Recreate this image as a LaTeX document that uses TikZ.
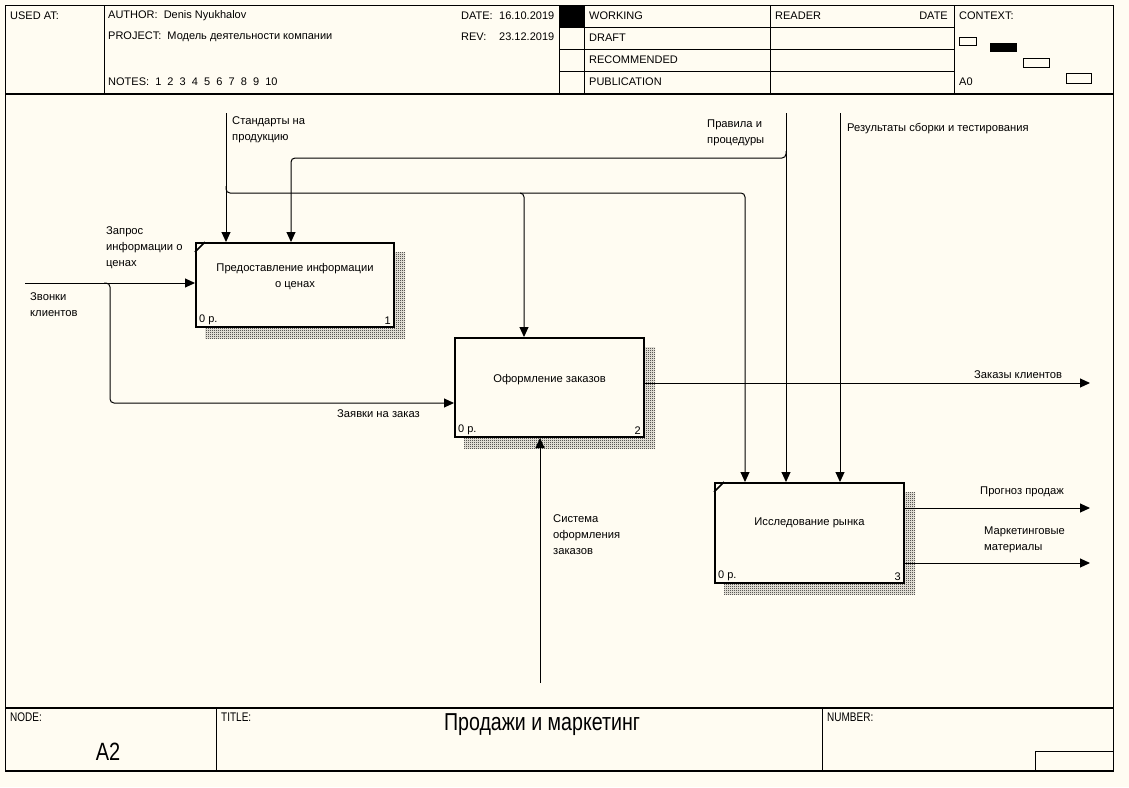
\documentclass[tikz,border=0pt]{standalone}
\usepackage{fontspec}
\setmainfont{Liberation Sans}
\newfontfamily\narrowfont[FakeStretch=0.8]{Liberation Sans}
\usetikzlibrary{arrows.meta,patterns}
\pgfdeclarelayer{back}
\pgfsetlayers{back,main}
\definecolor{paper}{HTML}{FFFCF2}
% fine dither used for the box shadows
\pgfdeclarepatternformonly{dither}{\pgfpointorigin}{\pgfpoint{2pt}{2pt}}{\pgfpoint{2pt}{2pt}}{%
  \pgfpathrectangle{\pgfpointorigin}{\pgfpoint{1pt}{1pt}}%
  \pgfpathrectangle{\pgfpoint{1pt}{1pt}}{\pgfpoint{1pt}{1pt}}%
  \pgfusepath{fill}}
\begin{document}
\begin{tikzpicture}[x=1pt,y=-1pt,
  txt/.style={font=\fontsize{11.2}{16}\selectfont, inner sep=0pt, align=left, anchor=west},
  hdr/.style={font=\fontsize{11}{12}\selectfont, inner sep=0pt, anchor=west},
  small/.style={font=\narrowfont\fontsize{12.5}{13}\selectfont, inner sep=0pt, anchor=west},
  thin/.style={line width=0.9pt},
  heavy/.style={line width=1.6pt},
  actbox/.style={draw, line width=2pt, fill=paper, inner sep=0pt},
  boxtext/.style={font=\fontsize{11.2}{16}\selectfont, inner sep=0pt, align=center},
  flow/.style={line width=1pt},
  arr/.style={flow, -{Triangle[length=10pt,width=9pt]}},
  shade/.style={pattern=dither, pattern color=black}]

\useasboundingbox (0,0) rectangle (1129,787);

% ---------- outer frame ----------
\draw[thin] (5,5) rectangle (1113,771);
\draw[heavy] (5,94) -- (1113,94);
\draw[heavy] (5,708) -- (1113,708);
\draw[heavy] (5,771) -- (1113,771);

% ---------- header grid ----------
\draw[thin] (104,5) -- (104,94);
\draw[thin] (559,5) -- (559,94);
\draw[thin] (584,5) -- (584,94);
\draw[thin] (770,5) -- (770,94);
\draw[thin] (954,5) -- (954,94);
\foreach \yy in {27,49,71} \draw[thin] (559,\yy) -- (954,\yy);
\fill (559,5) rectangle (584,27);

\node[hdr] (usedat) at (10,16) {USED AT:};
\node[hdr] (author) at (108,16) {AUTHOR:\ \ Denis Nyukhalov};
\node[hdr] (project) at (108,37) {PROJECT:\ \ Модель деятельности компании};
\node[hdr] (notes) at (108,82) {NOTES:\ \ 1\ \ 2\ \ 3\ \ 4\ \ 5\ \ 6\ \ 7\ \ 8\ \ 9\ \ 10};
\node[hdr] (datel) at (461,16) {DATE:};
\node[hdr] (datev) at (499,16) {16.10.2019};
\node[hdr] (revl) at (461,37) {REV:};
\node[hdr] (revv) at (499,37) {23.12.2019};
\node[hdr] (working) at (589,16) {WORKING};
\node[hdr] (draft) at (589,38) {DRAFT};
\node[hdr] (recommended) at (589,60) {RECOMMENDED};
\node[hdr] (publication) at (589,82) {PUBLICATION};
\node[hdr] (reader) at (775,16) {READER};
\node[hdr, anchor=east] (rdate) at (948,16) {DATE};
\node[hdr] (context) at (959,16) {CONTEXT:};
\node[hdr] (azero) at (959,82) {A0};

% context thumbnail
\draw[thin, fill=paper] (959,37) rectangle (976,45);
\fill (990,43) rectangle (1017,52);
\draw[thin, fill=paper] (1023,58) rectangle (1049,67);
\draw[thin, fill=paper] (1066,73) rectangle (1091,83);

% ---------- footer ----------
\draw[thin] (216,708) -- (216,771);
\draw[thin] (822,708) -- (822,771);
\draw[thin] (1035,771) |- (1113,751);
\node[small] (nodel) at (10,717) {NODE:};
\node[small] (titlel) at (221,717) {TITLE:};
\node[small] (numberl) at (827,717) {NUMBER:};
\node[inner sep=0pt, font=\narrowfont\fontsize{25}{26}\selectfont] (nodeid) at (108,752) {A2};
\node[inner sep=0pt, font=\narrowfont\fontsize{24.5}{26}\selectfont] (title) at (542,725) {Продажи и маркетинг};

% ---------- activity boxes ----------
\node[actbox, minimum width=198, minimum height=84] (b1) at (295,285) {};
\node[actbox, minimum width=189, minimum height=99] (b2) at (549.5,387.5) {};
\node[actbox, minimum width=189, minimum height=100] (b3) at (809.5,533) {};

\begin{pgfonlayer}{back}
  \fill[paper] (0,0) rectangle (1129,787);
  \foreach \b in {b1,b2,b3}
    \fill[shade] ([xshift=10pt,yshift=-10pt]\b.south west) rectangle ([xshift=10pt,yshift=-10pt]\b.north east);
\end{pgfonlayer}

\node[boxtext] (b1t) at ([yshift=8pt]b1.center) {Предоставление информации\\о ценах};
\node[boxtext] (b2t) at ([yshift=8pt]b2.center) {Оформление заказов};
\node[boxtext] (b3t) at ([yshift=10pt]b3.center) {Исследование рынка};

\foreach \b/\n in {b1/1,b2/2,b3/3}{
  \node[hdr, anchor=south west] (\b c) at ([xshift=4pt,yshift=3pt]\b.south west) {0 р.};
  \node[hdr, anchor=south east] (\b n) at ([xshift=-4pt,yshift=3pt]\b.south east) {\n};
}
\draw[flow, line width=1.5pt] ([yshift=-10pt]b1.north west) -- ([xshift=10pt]b1.north west);
\draw[flow, line width=1.5pt] ([yshift=-10pt]b3.north west) -- ([xshift=10pt]b3.north west);

% ---------- boundary points ----------
\coordinate (stdIn) at (226,113);
\coordinate (stdJ) at (226,186);
\coordinate (rulIn) at (786,113);
\coordinate (rulJ) at (786,151);
\coordinate (resIn) at (840,113);
\coordinate (callIn) at (25,283);
\coordinate (callJ) at (104,283);
\coordinate (ordOut) at (1090,383);
\coordinate (fcOut) at (1090,508);
\coordinate (mkOut) at (1090,563);
\coordinate (sysIn) at (540,683);

% ---------- arrows ----------
\draw[arr] (stdIn) -- (stdIn |- b1.north);
\draw[arr, rounded corners=4pt] (stdJ) |- (524,193) -- (524,193 |- b2.north);
\draw[arr, rounded corners=4pt] (520,193) -| (745,193 |- b3.north);

\draw[arr] (rulIn) -- (rulIn |- b3.north);
\draw[arr, rounded corners=4pt] (rulJ) |- (291,158) -- (291,158 |- b1.north);

\draw[arr] (resIn) -- (resIn |- b3.north);

\draw[arr] (callIn) -- (callIn -| b1.west);
\draw[arr, rounded corners=4pt] (callJ) -| (110,403) -- (110,403 -| b2.west);

\draw[arr] (ordOut -| b2.east) -- (ordOut);
\draw[arr] (fcOut -| b3.east) -- (fcOut);
\draw[arr] (mkOut -| b3.east) -- (mkOut);

\draw[arr] (sysIn) -- (sysIn |- b2.south);

% ---------- arrow labels ----------
\node[txt] (lstd) at (232,130) {Стандарты на\\продукцию};
\node[txt] (lrul) at (707,133) {Правила и\\процедуры};
\node[txt] (lres) at (847,129) {Результаты сборки и тестирования};
\node[txt] (lreq) at (106,248) {Запрос\\информации о\\ценах};
\node[txt] (lcall) at (30,305) {Звонки\\клиентов};
\node[txt] (lapp) at (337,414) {Заявки на заказ};
\node[txt] (lord) at (974,375) {Заказы клиентов};
\node[txt] (lfc) at (980,492) {Прогноз продаж};
\node[txt] (lmk) at (984,540) {Маркетинговые\\материалы};
\node[txt] (lsys) at (553,535) {Система\\оформления\\заказов};

\end{tikzpicture}
\end{document}
